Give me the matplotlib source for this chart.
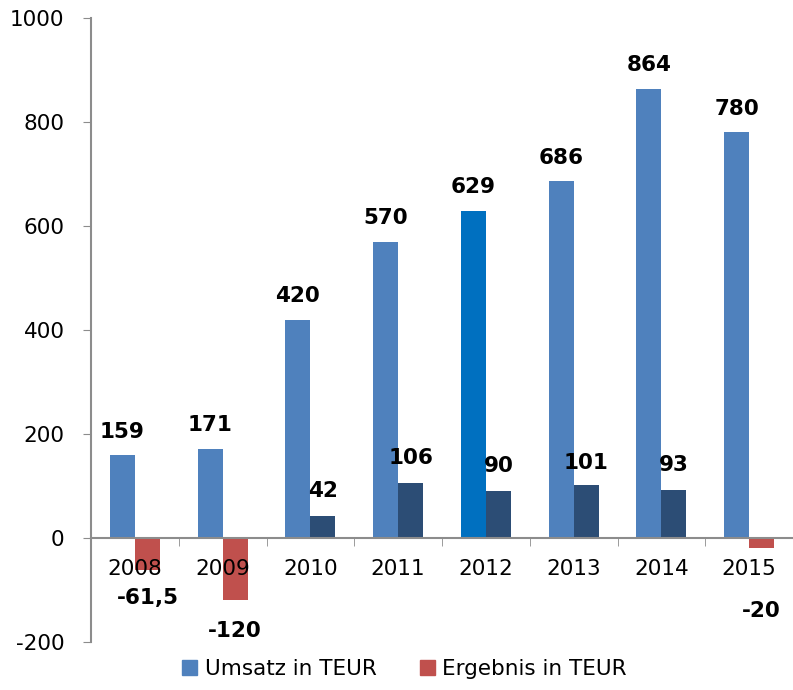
import matplotlib
matplotlib.use('Agg')
import matplotlib.pyplot as plt
import numpy as np
from matplotlib.patches import Patch

years = ['2008', '2009', '2010', '2011', '2012', '2013', '2014', '2015']
umsatz = [159, 171, 420, 570, 629, 686, 864, 780]
ergebnis = [-61.5, -120, 42, 106, 90, 101, 93, -20]
ergebnis_labels = ['-61,5', '-120', '42', '106', '90', '101', '93', '-20']
ylim = (-200, 1000)
yticks = [-200, 0, 200, 400, 600, 800, 1000]

c_umsatz = '#4F81BD'
c_highlight = '#0070C0'
c_pos = '#2C4D75'
c_neg = '#C0504D'
c_axis = '#8C8C8C'

plt.rcParams.update({'font.family': 'DejaVu Sans', 'font.size': 15,
                     'axes.unicode_minus': False})

fig = plt.figure(figsize=(7.93, 6.90), dpi=100)
ax = fig.add_axes([0.1148, 0.0696, 0.8852, 0.9044])

x = np.arange(len(years))
w = 0.285
u_colors = [c_highlight if y == '2012' else c_umsatz for y in years]
e_colors = [c_pos if v > 0 else c_neg for v in ergebnis]
ax.bar(x - w / 2, umsatz, w, color=u_colors)
ax.bar(x + w / 2, ergebnis, w, color=e_colors)

for xi, v in zip(x, umsatz):
    ax.annotate(str(v), (xi - w / 2, v), xytext=(0, 17), textcoords='offset points',
                ha='center', va='center', fontsize=15.5, fontweight='bold')
# label offsets (points) for the Ergebnis series
e_off = [-20, -22, 18, 18, 18, 16, 18, -45]
for xi, v, lab, off in zip(x, ergebnis, ergebnis_labels, e_off):
    ax.annotate(lab, (xi + w / 2, v), xytext=(0, off), textcoords='offset points',
                ha='center', va='center', fontsize=15.5, fontweight='bold')

ax.set_xlim(-0.5, len(years) - 0.5)
ax.set_ylim(*ylim)
ax.set_yticks(yticks)
ax.set_xticks(x)
ax.set_xticklabels(years)
ax.set_xticks(np.arange(0.5, len(years) - 0.5, 1), minor=True)
ax.tick_params(axis='x', which='major', length=0, pad=15.5, labelsize=15.5)
ax.tick_params(axis='x', which='minor', length=6, color=c_axis, direction='out')
ax.tick_params(axis='y', length=6, color=c_axis, pad=13, labelsize=15.5)

for s in ['top', 'right']:
    ax.spines[s].set_visible(False)
ax.spines['bottom'].set_position(('data', 0))
ax.spines['bottom'].set_color(c_axis)
ax.spines['left'].set_color(c_axis)
ax.spines['bottom'].set_linewidth(1.5)
ax.spines['left'].set_linewidth(1.5)

handles = [Patch(color=c_umsatz, label='Umsatz in TEUR'),
           Patch(color=c_neg, label='Ergebnis in TEUR')]
fig.legend(handles=handles, loc='lower center', bbox_to_anchor=(0.51, -0.012), ncol=2,
           frameon=False, handlelength=0.7, handleheight=0.7, handletextpad=0.35,
           columnspacing=2.0, fontsize=15.5)

fig.savefig('out.png', dpi=100)
